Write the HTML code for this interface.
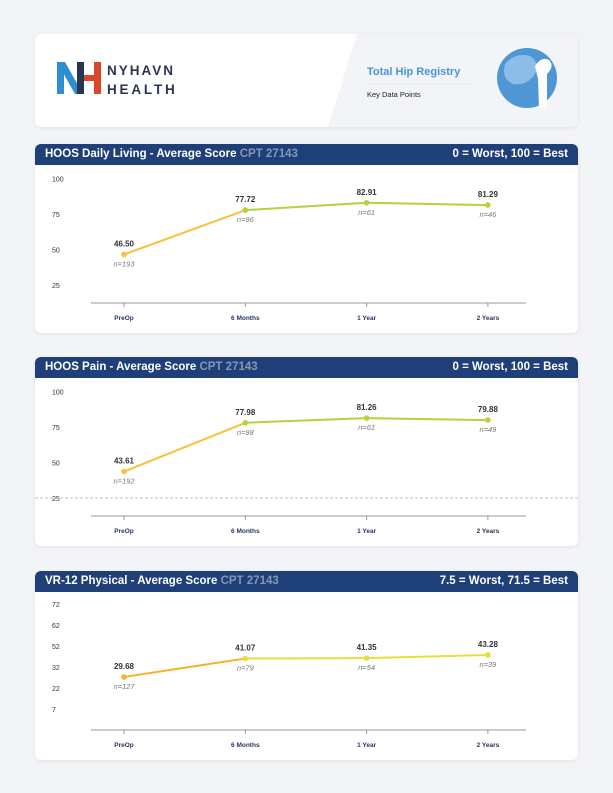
<!DOCTYPE html>
<html><head><meta charset="utf-8">
<style>
body{margin:0;width:613px;height:793px;background:#f3f4f7;font-family:"Liberation Sans",sans-serif;position:relative;overflow:hidden}
.card{position:absolute;left:35px;width:543px;background:#fff;border-radius:6px;box-shadow:0 1px 4px rgba(0,0,0,.08);overflow:hidden}
.hdr{height:21px;background:#1e3f78;color:#fff;font-weight:bold;font-size:11.5px;line-height:21px;padding:0 10px;display:flex;justify-content:space-between}
.hdr .cpt{color:#8797b5}
svg text{font-family:"Liberation Sans",sans-serif}
</style></head><body>
<div class="card" style="top:34px;height:93px">
  <svg width="543" height="93" style="position:absolute;left:0;top:0">
    <polygon points="322,0 543,0 543,93 293,93" fill="#f3f4f7"/>
    <rect x="22" y="28" width="7" height="32" fill="#2e8fcf"/>
    <polygon points="22,28 30,28 48,60 40,60" fill="#2e8fcf"/>
    <rect x="42" y="28" width="7" height="32" fill="#2a3550"/>
    <rect x="49" y="41" width="10" height="6" fill="#d9472b"/>
    <rect x="59" y="28" width="7" height="32" fill="#d9472b"/>
    <text x="72" y="41" font-size="13.5" font-weight="bold" fill="#2a3550" letter-spacing="2">NYHAVN</text>
    <text x="72" y="60" font-size="13.5" font-weight="bold" fill="#2a3550" letter-spacing="2.8">HEALTH</text>
    <text x="332" y="41" font-size="11" font-weight="bold" fill="#4a95d6">Total Hip Registry</text>
    <line x1="332" y1="50" x2="438" y2="50" stroke="#e4ecf5" stroke-width="1.5"/>
    <text x="332" y="63" font-size="7.5" fill="#222">Key Data Points</text>
    <circle cx="492" cy="44" r="30" fill="#4f97d4"/>
    <path d="M470,30 Q480,18 495,22 Q505,28 500,40 Q492,52 478,50 Q466,45 470,30Z" fill="#8cbde8"/>
    <path d="M500,32 Q506,22 514,26 Q520,32 512,40 L512,73 L504,74 L503,45Z" fill="#fff"/>
  </svg>
</div>
<div id="c1" class="card" style="top:144px;height:189px"><div class="hdr"><span>HOOS Daily Living - Average Score <span class="cpt">CPT 27143</span></span><span>0 = Worst, 100 = Best</span></div></div>
<div id="c2" class="card" style="top:357px;height:189px"><div class="hdr"><span>HOOS Pain - Average Score <span class="cpt">CPT 27143</span></span><span>0 = Worst, 100 = Best</span></div></div>
<div id="c3" class="card" style="top:571px;height:189px"><div class="hdr"><span>VR-12 Physical - Average Score <span class="cpt">CPT 27143</span></span><span>7.5 = Worst, 71.5 = Best</span></div></div>
<script>
const categories=["PreOp","6 Months","1 Year","2 Years"];
const dailyValues=[46.50,77.72,82.91,81.29];
const dailyN=[193,96,61,46];
const painValues=[43.61,77.98,81.26,79.88];
const painN=[192,98,61,49];
const vrValues=[29.68,41.07,41.35,43.28];
const vrN=[127,79,54,39];
const hoosTicks=["100","75","50","25"];
const hoosTickVals=[100,75,50,25];
const vrTicks=["72","62","52","32","22","7"];
const NS="http://www.w3.org/2000/svg";
function mk(p,t,a){const e=document.createElementNS(NS,t);for(const k in a)e.setAttribute(k,a[k]);p.appendChild(e);return e;}
function xPos(i){return 89+i*121.3;}
function chart(id,vals,ns,yScale,ticks,tickY,c1,c2,dash){
  const card=document.getElementById(id);
  const s=mk(card,"svg",{width:543,height:168,style:"position:absolute;left:0;top:21px"});
  
  
  ticks.forEach((t,i)=>{const y=tickY(i);
    const tx=mk(s,"text",{x:17,y:y+3,"font-size":7,fill:"#333"});tx.textContent=t;
    
    });
  if(dash!==undefined){mk(s,"line",{x1:0,x2:543,y1:dash,y2:dash,stroke:"#aaa","stroke-dasharray":"3,2","stroke-width":0.7});}
  mk(s,"line",{x1:56,x2:491,y1:138,y2:138,stroke:"#bbb","stroke-width":1.5});
  categories.forEach((c,i)=>{const x=xPos(i);
    mk(s,"line",{x1:x,x2:x,y1:138,y2:142,stroke:"#999"});
    const t=mk(s,"text",{x:x,y:155,"font-size":6.5,"font-weight":"bold",fill:"#2a3560","text-anchor":"middle"});t.textContent=c;
    
    });
  for(let i=0;i<vals.length-1;i++){
    const l=mk(s,"line",{x1:xPos(i),y1:yScale(vals[i]),x2:xPos(i+1),y2:yScale(vals[i+1]),stroke:i==0?c1:c2,"stroke-width":2});
    
    }
  vals.forEach((v,i)=>{const x=xPos(i),y=yScale(v);
    const p=mk(s,"circle",{cx:x,cy:y,r:2.8,fill:i==0?c1:c2});
    
    
    const t=mk(s,"text",{x:x,y:y-8,"font-size":8,"font-weight":"bold",fill:"#333","text-anchor":"middle"});t.textContent=v.toFixed(2);
    
    
    const n=mk(s,"text",{x:x,y:y+12,"font-size":7.5,"font-style":"italic",fill:"#777","text-anchor":"middle"});n.textContent="n="+ns[i];
    
    });
}
const hoosY=v=>155.5-v*1.42;
chart("c1",dailyValues,dailyN,hoosY,hoosTicks,i=>hoosY(hoosTickVals[i]),"#f7c23c","#b5d33a");
chart("c2",painValues,painN,hoosY,hoosTicks,i=>hoosY(hoosTickVals[i]),"#f7c23c","#b5d33a",hoosY(25));
const vrY=v=>85-(v-29.68)*1.62;
chart("c3",vrValues,vrN,vrY,vrTicks,i=>12+i*21,"#f3b526","#e5e03a");
</script>
</body></html>
